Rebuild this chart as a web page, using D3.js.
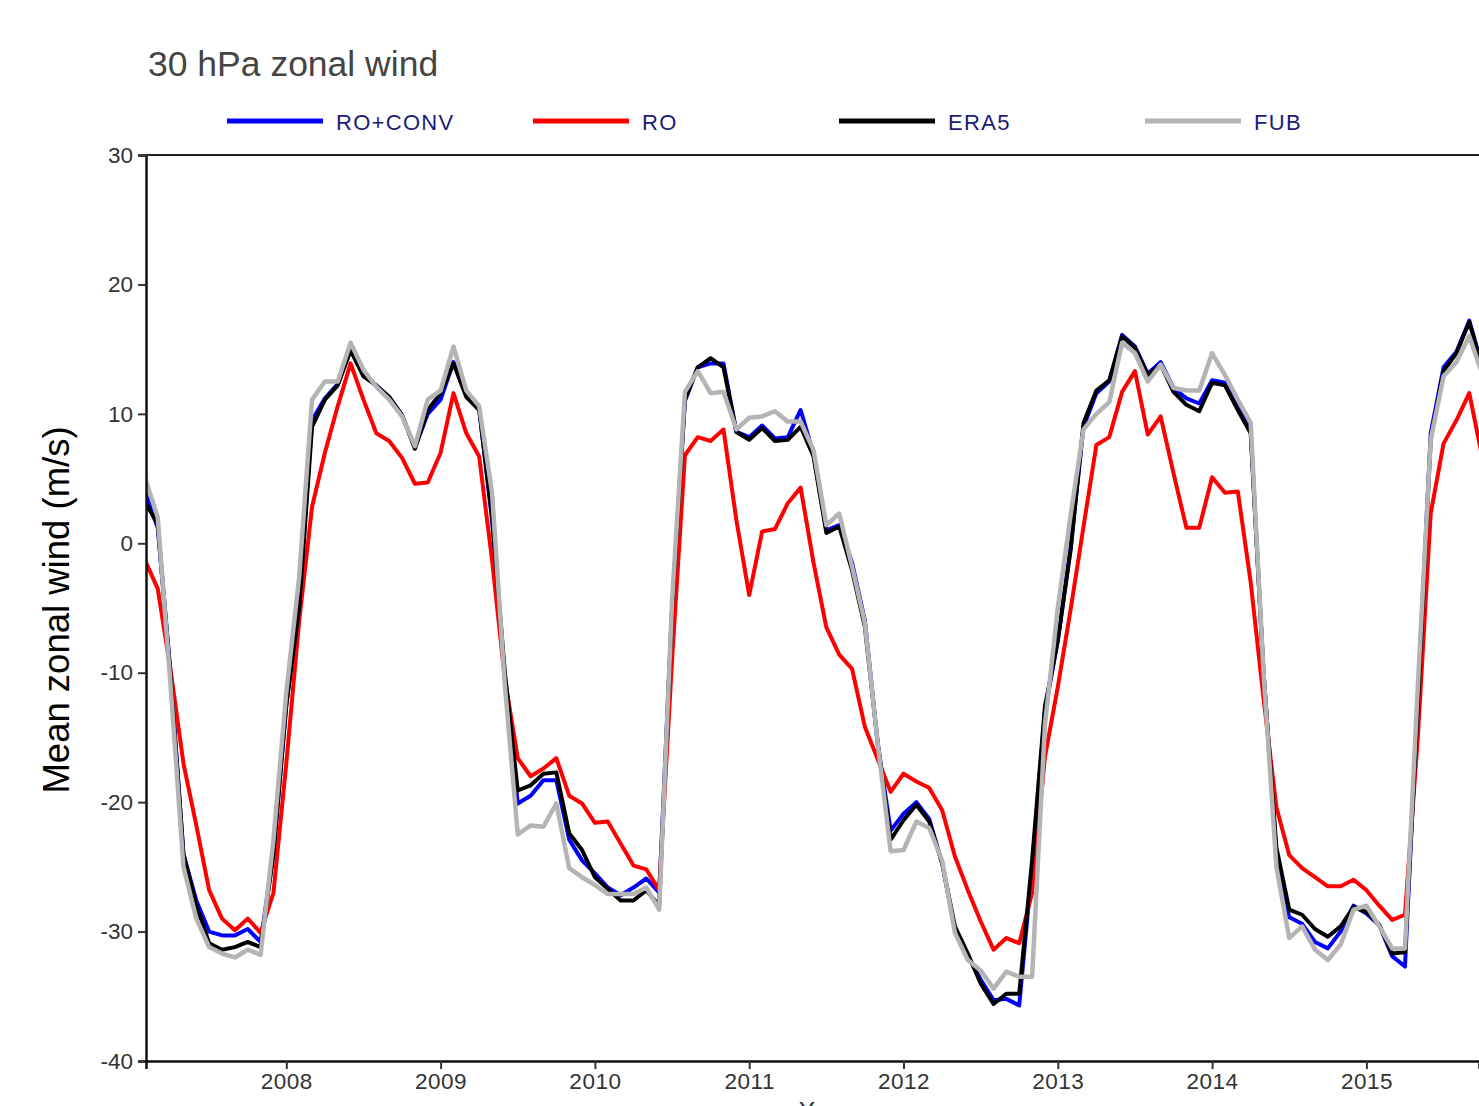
<!DOCTYPE html>
<html>
<head>
<meta charset="utf-8">
<script src="https://cdn.jsdelivr.net/npm/d3@7/dist/d3.min.js"></script>
<style>
  html, body { margin: 0; padding: 0; background: #fff; overflow: hidden; }
  svg { display: block; }
  text { font-family: "Liberation Sans", Arial, sans-serif; }
</style>
</head>
<body>
<svg id="chart" width="1479" height="1106"></svg>
<script>
// ---- Data (monthly means, first value = Feb 2007) ----
const startYear = 2007;
const startMonth = 2; // February

const seriesNames = ["RO+CONV", "RO", "ERA5", "FUB"];
const seriesColors = ["#0000ff", "#ff0000", "#000000", "#b4b4b4"];

const roConv = [
  4.0, 1.2, -10, -24, -27.6, -30.0, -30.3, -30.3, -29.8, -30.8, -24,
  -12.5, -4.5, 9.5, 11.2, 12.3, 15.0, 13.0, 12.2, 11.3, 9.9, 7.4, 10.0,
  11.1, 14.0, 11.4, 10.4, 1.8, -10.5, -20.1, -19.5, -18.3, -18.3, -22.9, -24.5,
  -25.5, -26.6, -27.2, -26.6, -25.9, -27.0, -5, 11.0, 13.6, 13.9, 13.9, 8.6,
  8.2, 9.1, 8.1, 8.2, 10.3, 6.9, 1.0, 1.4, -1.5, -6.0, -15.5, -22.2,
  -20.9, -20.0, -21.3, -24.7, -29.9, -31.9, -33.7, -35.3, -35.2, -35.7, -25, -13,
  -7.5, -0.3, 9.0, 11.6, 12.5, 16.1, 15.2, 13.1, 14.0, 12.0, 11.2, 10.8,
  12.6, 12.4, 10.6, 8.8, -10, -24, -28.9, -29.4, -30.8, -31.3, -30.0, -28.0,
  -28.6, -29.5, -31.9, -32.7, -12, 8.5, 13.6, 14.8, 17.2, 13.7
];

const ro = [
  -1.3, -3.5, -9.8, -17, -21.8, -26.8, -29.0, -29.9, -29.0, -30.1, -27,
  -17, -6, 2.8, 7.0, 10.6, 13.9, 11.1, 8.5, 7.9, 6.6, 4.6, 4.7,
  7.0, 11.6, 8.5, 6.7, -1.3, -10.5, -16.6, -18.0, -17.4, -16.6, -19.5, -20.1,
  -21.6, -21.5, -23.2, -24.9, -25.2, -26.8, -9, 6.8, 8.2, 7.9, 8.8, 1.8,
  -4.0, 0.9, 1.1, 3.1, 4.3, -1.5, -6.5, -8.6, -9.7, -14.2, -16.7, -19.2,
  -17.8, -18.4, -18.9, -20.6, -24.2, -26.8, -29.2, -31.4, -30.5, -30.9, -27.0, -16.5,
  -11.1, -5.1, 1.3, 7.6, 8.2, 11.7, 13.3, 8.4, 9.8, 5.4, 1.2, 1.2,
  5.1, 3.9, 4.0, -3, -12, -20.4, -24.1, -25.1, -25.8, -26.5, -26.5, -26.0,
  -26.8, -28.0, -29.1, -28.7, -15, 2.3, 7.7, 9.5, 11.6, 6.7
];

const era5 = [
  3.2, 1.5, -10.3, -24, -28.0, -30.9, -31.4, -31.2, -30.8, -31.2, -24,
  -12.5, -5, 9.0, 11.1, 12.2, 14.9, 12.9, 12.2, 11.3, 9.9, 7.3, 10.3,
  11.6, 13.9, 11.3, 10.3, 2.1, -10, -19.1, -18.7, -17.8, -17.7, -22.4, -23.7,
  -25.8, -26.7, -27.6, -27.6, -26.8, -28.0, -5, 11.1, 13.6, 14.3, 13.6, 8.6,
  8.0, 8.9, 7.9, 8.0, 9.0, 6.7, 0.8, 1.3, -2.1, -6.5, -15.5, -22.9,
  -21.4, -20.2, -21.5, -24.7, -29.6, -31.7, -34.0, -35.6, -34.8, -34.8, -24.5, -12.6,
  -7.5, -0.5, 9.3, 11.8, 12.6, 16.0, 15.1, 13.0, 13.8, 11.7, 10.7, 10.2,
  12.4, 12.2, 10.3, 8.5, -10, -23.5, -28.3, -28.7, -29.8, -30.4, -29.6, -28.1,
  -28.5, -29.5, -31.7, -31.6, -12.5, 8.0, 13.3, 14.7, 17.1, 13.6
];

const fub = [
  5.1, 2.0, -11, -25, -29.0, -31.2, -31.7, -32.0, -31.4, -31.8, -22.9,
  -11.5, -2.6, 11.1, 12.5, 12.5, 15.5, 13.4, 12.1, 11.1, 9.8, 7.5, 11.1,
  11.8, 15.2, 11.8, 10.6, 3.9, -11, -22.5, -21.8, -21.9, -20.1, -25.1, -25.8,
  -26.4, -27.1, -27.1, -27.1, -26.6, -28.3, -4.5, 11.7, 13.3, 11.6, 11.7, 8.8,
  9.7, 9.8, 10.2, 9.4, 9.4, 7.2, 1.4, 2.3, -1.8, -6.2, -15.5, -23.8,
  -23.7, -21.5, -22.0, -24.5, -30.1, -32.2, -33.0, -34.4, -33.1, -33.5, -33.5, -14,
  -5, 2.2, 8.8, 10.0, 10.9, 15.5, 14.7, 12.5, 13.8, 12.0, 11.8, 11.8,
  14.7, 13.0, 11.1, 9.3, -10, -25, -30.5, -29.6, -31.4, -32.2, -31.0, -28.3,
  -28.0, -29.6, -31.3, -31.3, -11, 8.0, 12.9, 14.0, 16.0, 13.1
];

const xTickYears = [2008, 2009, 2010, 2011, 2012, 2013, 2014, 2015];
const yTicks = [-40, -30, -20, -10, 0, 10, 20, 30];

const titleText = "30 hPa zonal wind";
const yLabel = "Mean zonal wind (m/s)";
const xLabel = "X";

// ---- Layout ----
const svg = d3.select("#chart");
const plot = { left: 146, right: 1479, top: 155, bottom: 1061 };

const seriesData = [roConv, ro, era5, fub];
const timeOf = i => startYear + (startMonth - 1 + i) / 12;

const x = d3.scaleLinear()
  .domain([2007.0907, 2015.7297])
  .range([plot.left, plot.right]);
const y = d3.scaleLinear()
  .domain([-40, 30])
  .range([plot.bottom, plot.top]);

svg.append("defs").append("clipPath").attr("id", "clip")
  .append("rect")
  .attr("x", plot.left).attr("y", plot.top - 10)
  .attr("width", plot.right - plot.left + 5)
  .attr("height", plot.bottom - plot.top + 20);

// Title
svg.append("text")
  .attr("x", 148).attr("y", 76)
  .attr("font-size", 35.5)
  .attr("fill", "#444")
  .text(titleText);

// Legend
const legendX = [227, 533, 839, 1145];
const legend = svg.append("g");
seriesNames.forEach((name, k) => {
  legend.append("line")
    .attr("x1", legendX[k]).attr("x2", legendX[k] + 96)
    .attr("y1", 121).attr("y2", 121)
    .attr("stroke", seriesColors[k])
    .attr("stroke-width", 5);
  legend.append("text")
    .attr("x", legendX[k] + 109).attr("y", 129.5)
    .attr("font-size", 22)
    .attr("letter-spacing", 1.3)
    .attr("fill", "#1c1c78")
    .text(name);
});

// Lines
const line = d3.line()
  .x((d, i) => x(timeOf(i)))
  .y(d => y(d));

const lines = svg.append("g").attr("clip-path", "url(#clip)");
seriesData.forEach((vals, k) => {
  lines.append("path")
    .datum(vals)
    .attr("fill", "none")
    .attr("stroke", seriesColors[k])
    .attr("stroke-width", k === 3 ? 4.5 : 4)
    .attr("stroke-linejoin", "round")
    .attr("d", line);
});

const fmt = d => String(d);

// Axes
const yAxis = d3.axisLeft(y).tickValues(yTicks).tickSize(8).tickPadding(5)
  .tickFormat(fmt);
const gy = svg.append("g")
  .attr("transform", `translate(${plot.left},0)`)
  .call(yAxis);
gy.select(".domain").attr("stroke", "#111").attr("stroke-width", 2.5);
gy.selectAll(".tick line").attr("stroke", "#333").attr("stroke-width", 2);
gy.selectAll(".tick text")
  .attr("font-size", 22.5)
  .attr("fill", "#333")
  .attr("font-family", "Liberation Sans, Arial, sans-serif");

const xAxis = d3.axisBottom(x).tickValues(xTickYears).tickSize(8).tickPadding(4)
  .tickFormat(fmt);
const gx = svg.append("g")
  .attr("transform", `translate(0,${plot.bottom})`)
  .call(xAxis);
gx.select(".domain").attr("stroke", "#111").attr("stroke-width", 2.5);
gx.selectAll(".tick line").attr("stroke", "#333").attr("stroke-width", 2);
gx.selectAll(".tick text")
  .attr("font-size", 22.5)
  .attr("letter-spacing", 0.5)
  .attr("fill", "#333")
  .attr("font-family", "Liberation Sans, Arial, sans-serif");

// Top frame line
svg.append("line")
  .attr("x1", plot.left).attr("x2", plot.right)
  .attr("y1", plot.top).attr("y2", plot.top)
  .attr("stroke", "#222").attr("stroke-width", 2);

// Y axis label
svg.append("text")
  .attr("transform", `translate(69,${(plot.top + plot.bottom) / 2 + 2}) rotate(-90)`)
  .attr("text-anchor", "middle")
  .attr("font-size", 36.5)
  .attr("fill", "#000")
  .text(yLabel);

// X axis label (mostly below the visible area, as in the reference)
svg.append("text")
  .attr("x", 807).attr("y", 1120)
  .attr("text-anchor", "middle")
  .attr("font-size", 26)
  .attr("fill", "#333")
  .text(xLabel);
</script>
</body>
</html>
